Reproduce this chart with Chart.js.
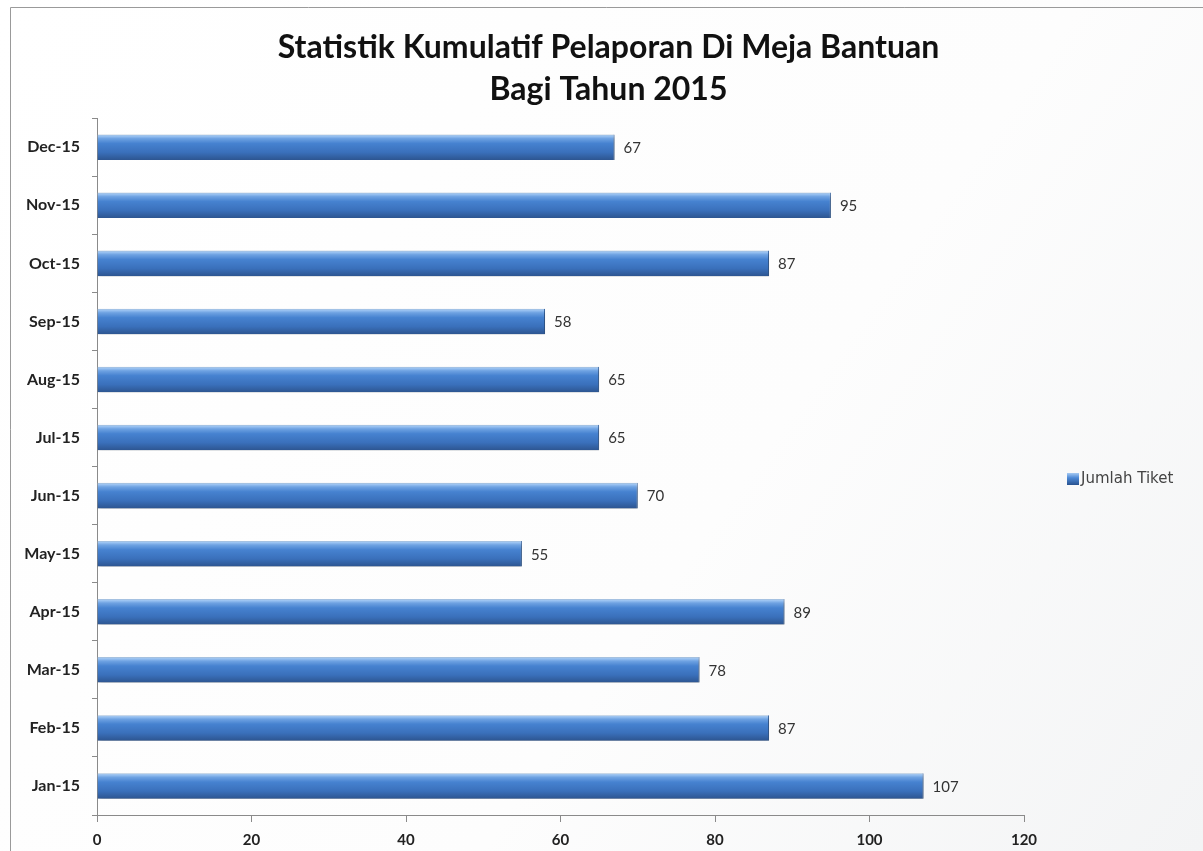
<!DOCTYPE html>
<html>
<head>
<meta charset="utf-8">
<script src="https://cdn.jsdelivr.net/npm/chart.js@4.4.0/dist/chart.umd.min.js"></script>
<style>
html,body{margin:0;padding:0;background:#ffffff;}
#wrap{position:absolute;left:0;top:0;width:1203px;height:851px;}
</style>
</head>
<body>
<div id="wrap"><canvas id="c" width="1203" height="851"></canvas></div>
<script>
const categories = ["Jan-15","Feb-15","Mar-15","Apr-15","May-15","Jun-15","Jul-15","Aug-15","Sep-15","Oct-15","Nov-15","Dec-15"];
const jumlahTiket = [107, 87, 78, 89, 55, 70, 65, 65, 58, 87, 95, 67];
const xTicks = [0, 20, 40, 60, 80, 100, 120];
const titleLines = ["Statistik Kumulatif Pelaporan Di Meja Bantuan", "Bagi Tahun 2015"];
const seriesName = "Jumlah Tiket";

const FONT = "Lato, 'Open Sans', 'DejaVu Sans', sans-serif";
const CAT_PCT = 0.44;

function barFill(context) {
  const chart = context.chart;
  const yScale = chart.scales && chart.scales.y;
  if (!chart.chartArea || !yScale || !yScale.height || context.dataIndex === undefined) return '#3f7bc9';
  const y = yScale.getPixelForValue(context.dataIndex);
  const h = (yScale.height / categories.length) * CAT_PCT;
  if (!isFinite(y)) return '#3f7bc9';
  const g = chart.ctx.createLinearGradient(0, y - h / 2, 0, y + h / 2);
  g.addColorStop(0, '#a9c0d8');
  g.addColorStop(0.06, '#9cc4f2');
  g.addColorStop(0.16, '#6ea2e2');
  g.addColorStop(0.35, '#4682d0');
  g.addColorStop(0.7, '#3a70bb');
  g.addColorStop(1, '#2d5590');
  return g;
}

const backgroundPlugin = {
  id: 'bgframe',
  beforeDraw(chart) {
    const ctx = chart.ctx;
    ctx.save();
    const g = ctx.createLinearGradient(0, 0, chart.width, chart.height);
    g.addColorStop(0, '#ffffff');
    g.addColorStop(0.6, '#fdfdfd');
    g.addColorStop(1, '#f3f4f5');
    ctx.fillStyle = g;
    ctx.fillRect(0, 0, chart.width, chart.height);
    ctx.strokeStyle = '#9a9a9a';
    ctx.lineWidth = 1;
    ctx.beginPath();
    ctx.moveTo(10.5, chart.height);
    ctx.lineTo(10.5, 7.5);
    ctx.lineTo(chart.width, 7.5);
    ctx.stroke();
    ctx.restore();
  }
};

const shadowPlugin = {
  id: 'barShadow',
  beforeDatasetsDraw(chart) {
    const ctx = chart.ctx;
    ctx.save();
    ctx.shadowColor = 'rgba(0,0,0,0.35)';
    ctx.shadowBlur = 4;
    ctx.shadowOffsetX = 1;
    ctx.shadowOffsetY = 3;
  },
  afterDatasetsDraw(chart) {
    chart.ctx.restore();
  }
};

const valueLabelPlugin = {
  id: 'valueLabels',
  afterDatasetsDraw(chart) {
    const ctx = chart.ctx;
    ctx.save();
    ctx.font = "15px " + FONT;
    ctx.fillStyle = '#333333';
    ctx.textAlign = 'left';
    ctx.textBaseline = 'middle';
    chart.data.datasets.forEach((ds, di) => {
      const meta = chart.getDatasetMeta(di);
      meta.data.forEach((bar, i) => {
        ctx.fillText(String(ds.data[i]), bar.x + 9, bar.y + 1);
      });
    });
    ctx.restore();
  }
};

const legendPlugin = {
  id: 'sideLegend',
  afterDraw(chart) {
    const ctx = chart.ctx;
    const x = chart.chartArea.right + 43, y = 479;
    ctx.save();
    const g = ctx.createLinearGradient(0, y - 6, 0, y + 6);
    g.addColorStop(0, '#a6caf2');
    g.addColorStop(0.4, '#4d89d6');
    g.addColorStop(1, '#28528f');
    ctx.fillStyle = g;
    ctx.fillRect(x, y - 6, 12, 12);
    ctx.font = "15px 'DejaVu Sans', sans-serif";
    ctx.fillStyle = '#444444';
    ctx.textAlign = 'left';
    ctx.textBaseline = 'middle';
    ctx.fillText(chart.data.datasets[0].label, x + 14, y);
    ctx.restore();
  }
};

new Chart(document.getElementById('c'), {
  type: 'bar',
  data: {
    labels: categories,
    datasets: [{
      label: seriesName,
      data: jumlahTiket,
      backgroundColor: barFill,
      borderColor: '#2f5f9f',
      borderWidth: {left: 0, right: 1, top: 0, bottom: 0},
      categoryPercentage: CAT_PCT,
      barPercentage: 1.0
    }]
  },
  options: {
    indexAxis: 'y',
    responsive: false,
    animation: false,
    devicePixelRatio: 1,
    layout: { padding: { left: 14, right: 0, top: 0, bottom: 0 } },
    plugins: {
      title: {
        display: true,
        text: titleLines,
        color: '#111111',
        font: { family: FONT, size: 32, weight: 'bold', lineHeight: 1.3 },
        padding: { top: 27, bottom: 8 }
      },
      legend: { display: false },
      tooltip: { enabled: false }
    },
    scales: {
      x: {
        type: 'linear',
        min: 0,
        max: 120,
        afterBuildTicks(scale) { scale.ticks = xTicks.map(v => ({ value: v })); },
        afterFit(scale) { scale.height = 36; },
        border: { display: true, color: '#8a8a8a', width: 1 },
        grid: { drawOnChartArea: false, drawTicks: true, tickLength: 7, color: '#8a8a8a' },
        ticks: { color: '#222222', padding: 9, font: { family: FONT, size: 15, weight: 'bold' } }
      },
      y: {
        reverse: true,
        afterFit(scale) { scale.width = 83; },
        border: { display: true, color: '#8a8a8a', width: 1 },
        grid: { drawOnChartArea: false, drawTicks: true, tickLength: 5, color: '#8a8a8a', offset: true },
        ticks: { color: '#222222', padding: 12, font: { family: FONT, size: 16, weight: 'bold' } }
      },
      legendSpace: {
        type: 'category',
        position: 'right',
        display: true,
        afterFit(scale) { scale.width = 179; },
        border: { display: false },
        grid: { display: false, drawTicks: false },
        ticks: { display: false }
      }
    }
  },
  plugins: [backgroundPlugin, shadowPlugin, valueLabelPlugin, legendPlugin]
});
</script>
</body>
</html>
